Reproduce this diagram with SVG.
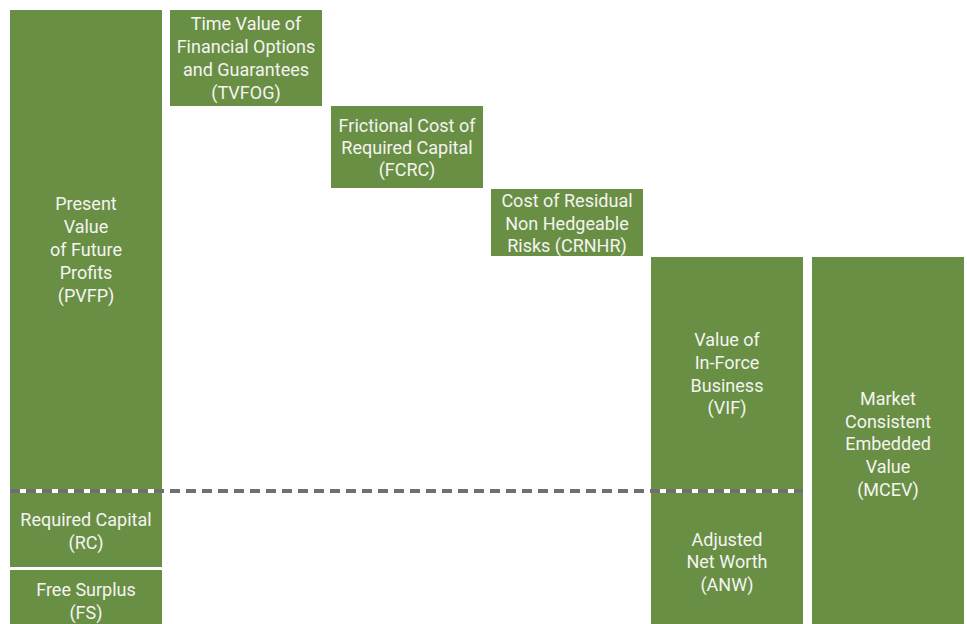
<svg xmlns="http://www.w3.org/2000/svg" width="967" height="624" viewBox="0 0 967 624">
<style>
.b{fill:#698f45}
.t{fill:#f4f4f0;font-family:Roboto,"Liberation Sans",sans-serif;font-size:18px;text-anchor:middle}
</style>
<rect width="967" height="624" fill="#ffffff"/>
<g id="pvfp"><rect class="b" x="10" y="10" width="152" height="480"/>
<text class="t"><tspan x="86" y="210">Present</tspan><tspan x="86" y="233">Value</tspan><tspan x="86" y="256">of Future</tspan><tspan x="86" y="279">Profits</tspan><tspan x="86" y="302">(PVFP)</tspan></text></g>
<g id="rc"><rect class="b" x="10" y="492" width="152" height="75"/>
<text class="t"><tspan x="86" y="526">Required Capital</tspan><tspan x="86" y="549">(RC)</tspan></text></g>
<g id="fs"><rect class="b" x="10" y="570" width="152" height="54"/>
<text class="t"><tspan x="86" y="596">Free Surplus</tspan><tspan x="86" y="619">(FS)</tspan></text></g>
<g id="tvfog"><rect class="b" x="170" y="10" width="152" height="96"/>
<text class="t"><tspan x="246" y="30">Time Value of</tspan><tspan x="246" y="53">Financial Options</tspan><tspan x="246" y="76">and Guarantees</tspan><tspan x="246" y="99">(TVFOG)</tspan></text></g>
<g id="fcrc"><rect class="b" x="331" y="106" width="152" height="82"/>
<text class="t"><tspan x="407" y="132">Frictional Cost of</tspan><tspan x="407" y="154">Required Capital</tspan><tspan x="407" y="176">(FCRC)</tspan></text></g>
<g id="crnhr"><rect class="b" x="491" y="189" width="152" height="67"/>
<text class="t"><tspan x="567" y="207">Cost of Residual</tspan><tspan x="567" y="230">Non Hedgeable</tspan><tspan x="567" y="252">Risks (CRNHR)</tspan></text></g>
<g id="vif"><rect class="b" x="651" y="257" width="152" height="233"/>
<text class="t"><tspan x="727" y="346">Value of</tspan><tspan x="727" y="369">In-Force</tspan><tspan x="727" y="392">Business</tspan><tspan x="727" y="414">(VIF)</tspan></text></g>
<g id="anw"><rect class="b" x="651" y="492" width="152" height="132"/>
<text class="t"><tspan x="727" y="546">Adjusted</tspan><tspan x="727" y="568">Net Worth</tspan><tspan x="727" y="591">(ANW)</tspan></text></g>
<g id="mcev"><rect class="b" x="812" y="257" width="152" height="367"/>
<text class="t"><tspan x="888" y="405">Market</tspan><tspan x="888" y="428">Consistent</tspan><tspan x="888" y="450">Embedded</tspan><tspan x="888" y="473">Value</tspan><tspan x="888" y="496">(MCEV)</tspan></text></g>
<g id="connectors">
<line x1="10" y1="491" x2="803" y2="491" stroke="#ffffff" stroke-width="4"/>
<line x1="10" y1="491" x2="803" y2="491" stroke="#6e6e74" stroke-width="4" stroke-dasharray="10 6"/>
</g>
</svg>
